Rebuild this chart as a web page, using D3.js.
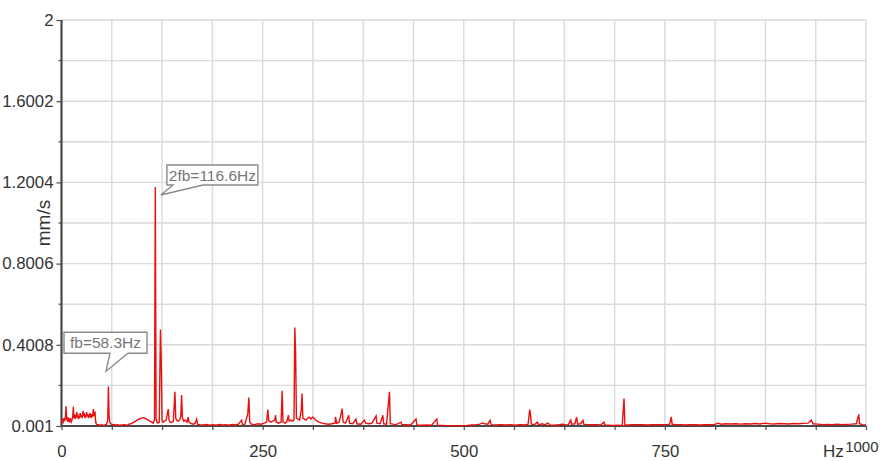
<!DOCTYPE html>
<html>
<head>
<meta charset="utf-8">
<script src="https://cdn.jsdelivr.net/npm/d3@7"></script>
<style>
  html, body { margin: 0; padding: 0; background: #fff; }
  svg { display: block; }
</style>
</head>
<body>
<svg id="chart" width="880" height="461"></svg>
<script>
// Vibration velocity spectrum (mm/s) versus frequency (Hz)
const yTickValues = [0.001, 0.4008, 0.8006, 1.2004, 1.6002, 2];
const yTickLabels = ["0.001", "0.4008", "0.8006", "1.2004", "1.6002", "2"];
const xTickValues = [0, 250, 500, 750, 1000];
const xTickLabels = ["0", "250", "500", "750", "1000"];

// [frequency Hz, amplitude mm/s]
const spectrum = [
  [0,0.015],[1,0.03],[2,0.02],[3,0.04],[4,0.025],[5,0.05],[5.6,0.098],[6.4,0.03],[7.2,0.045],[8,0.02],
  [9,0.035],[10,0.025],[11,0.04],[12,0.02],[13,0.03],[14,0.05],[14.7,0.095],[15.4,0.04],[16,0.06],[16.8,0.035],
  [17.5,0.055],[18.2,0.04],[18.9,0.07],[19.6,0.045],[20.3,0.06],[21,0.035],[21.8,0.05],[22.5,0.04],[23.2,0.065],[24,0.045],
  [24.8,0.055],[25.5,0.04],[26.2,0.06],[27,0.075],[27.7,0.05],[28.4,0.065],[29.1,0.04],[29.8,0.055],[30.5,0.045],[31.2,0.07],
  [32,0.05],[32.7,0.06],[33.4,0.04],[34.1,0.055],[34.8,0.045],[35.4,0.065],[36.1,0.05],[36.8,0.04],[37.5,0.06],[38.2,0.045],
  [39,0.055],[39.5,0.085],[40.2,0.05],[40.9,0.06],[41.6,0.072],[42.3,0.03],[43,0.012],[44,0.008],
  [46,0.008],[48,0.005],[50,0.007],[52,0.004],[54,0.006],[56,0.01],[57.5,0.03],[58.3,0.195],[59.2,0.05],[60,0.02],
  [61,0.012],[62,0.01],[64,0.006],[66,0.008],[68,0.005],[70,0.007],[72,0.004],[74,0.006],[76,0.005],[78,0.008],
  [80,0.006],[82,0.005],[84,0.01],[86,0.012],[88,0.015],[90,0.02],[92,0.025],[94,0.03],[96,0.035],[98,0.038],
  [100,0.04],[102,0.042],[104,0.038],[106,0.035],[108,0.03],[110,0.025],[112,0.02],[114,0.015],[115.6,0.03],[116.6,1.178],
  [117.6,0.04],[118.5,0.02],[120,0.015],[121.5,0.02],[123,0.476],[124,0.325],[125,0.03],[126,0.02],[128,0.025],[130,0.03],
  [132.7,0.084],[133.7,0.03],[135,0.02],[137,0.018],[139,0.025],[141,0.169],[142,0.04],[143,0.03],[145,0.025],[147,0.03],
  [148.3,0.05],[149.3,0.153],[150.3,0.04],[152,0.025],[154,0.03],[156,0.02],[157.5,0.045],[158.5,0.02],[160,0.015],[162,0.012],
  [164,0.01],[166,0.015],[168,0.035],[169,0.01],[172,0.008],[176,0.006],[180,0.008],[184,0.005],[188,0.007],[192,0.005],
  [196,0.008],[200,0.006],[204,0.007],[208,0.005],[212,0.008],[216,0.006],[220,0.01],[223.8,0.03],[225,0.008],[228,0.01],
  [231.5,0.06],[232.9,0.141],[234,0.02],[236,0.01],[240,0.008],[244,0.012],[248,0.01],[252,0.015],[255,0.02],[256.5,0.082],
  [257.5,0.03],[260,0.02],[263,0.025],[265,0.03],[266,0.054],[267,0.02],[270,0.015],[273,0.02],[274.3,0.174],[275.3,0.02],
  [278,0.015],[280,0.02],[282,0.054],[283,0.025],[285,0.03],[287,0.025],[289,0.03],[290,0.486],[291,0.366],[292,0.04],
  [294,0.035],[296,0.03],[298,0.08],[299,0.161],[300,0.04],[302,0.035],[304,0.03],[306,0.04],[308,0.045],[310,0.035],
  [312,0.045],[314,0.04],[316,0.03],[318,0.025],[320,0.02],[324,0.015],[328,0.012],[332,0.01],[336,0.012],[340,0.015],
  [340.6,0.046],[342,0.015],[345,0.02],[347,0.05],[348.8,0.087],[350,0.02],[353,0.015],[357,0.054],[358,0.015],[362,0.012],
  [366,0.035],[367,0.012],[372,0.01],[376.6,0.03],[378,0.015],[382,0.012],[386,0.015],[391,0.05],[392,0.015],[396,0.012],
  [399.4,0.054],[400.5,0.012],[404,0.01],[407.7,0.169],[408.7,0.012],[412,0.01],[416,0.008],[422,0.02],[423,0.008],[428,0.007],
  [434,0.006],[440.7,0.035],[441.7,0.006],[448,0.005],[454,0.006],[460,0.005],[466.5,0.035],[467.5,0.005],[474,0.004],[480,0.003],
  [486,0.003],[492,0.002],[498,0.003],[504,0.004],[510,0.006],[516,0.008],[520,0.01],[523,0.016],[526,0.012],[530,0.01],
  [532.7,0.03],[534,0.008],[540,0.006],[546,0.008],[552,0.006],[558,0.007],[564,0.005],[570,0.007],[576,0.006],[580,0.01],
  [582,0.082],[583,0.056],[584,0.01],[588,0.008],[591.5,0.02],[593,0.007],[598,0.012],[600,0.006],[605,0.015],[607,0.006],
  [612,0.005],[618,0.007],[623.4,0.01],[626,0.006],[630,0.008],[633,0.03],[634,0.01],[638,0.012],[640.4,0.044],[641.5,0.01],
  [645,0.012],[648.2,0.028],[649,0.01],[654,0.008],[660,0.007],[666,0.008],[670,0.006],[674.3,0.02],[675.5,0.006],[680,0.005],
  [686,0.004],[692,0.005],[697,0.004],[699.2,0.136],[700.3,0.005],[704,0.006],[710,0.008],[716,0.007],[722,0.008],[728,0.006],
  [734,0.007],[740,0.008],[746,0.007],[752,0.008],[756,0.01],[758,0.046],[759,0.01],[764,0.008],[770,0.007],[776,0.006],
  [782,0.008],[788,0.007],[794,0.006],[800,0.008],[806,0.007],[812,0.009],[816,0.015],[820,0.01],[826,0.012],[832,0.011],
  [838,0.012],[844,0.01],[850,0.012],[856,0.011],[862,0.013],[868,0.011],[874,0.015],[880,0.012],[886,0.011],[892,0.013],
  [898,0.012],[904,0.011],[910,0.013],[916,0.012],[922,0.014],[928,0.015],[932,0.03],[934,0.012],[940,0.01],[946,0.008],
  [952,0.009],[958,0.007],[964,0.01],[970,0.008],[976,0.009],[982,0.01],[988,0.012],[991,0.058],[992,0.012],[996,0.008],
  [1000,0.006]
];

// Marked peaks
const calloutTexts = ["fb=58.3Hz", "2fb=116.6Hz"];
const calloutHz = [58.3, 116.6];
const calloutAmp = [0.195, 1.178];

// Bubble geometry relative to the peak: box offset, box size, tail base (from box left), tail tip
const calloutLayout = [
  { dx: -44.4, dy: -54.4, w: 83, h: 21, base0: 46, base1: 64, tipDx: -2.4, tipDy: -15.4 },
  { dx: 11.6,  dy: -21.9, w: 91, h: 20, base0: 6,  base1: 36, tipDx: 5.6,  tipDy: 8.1 }
];

const svg = d3.select("#chart");
const plotLeft = 61.5, plotRight = 866, plotTop = 20, plotBottom = 426;

const x = d3.scaleLinear().domain([0, 1000]).range([plotLeft, plotRight]);
const y = d3.scaleLinear().domain([0.001, 2]).range([plotBottom, plotTop]);

const narrowFont = '"Liberation Sans Narrow","Arial Narrow","Liberation Sans",Arial,sans-serif';
const regularFont = '"Liberation Sans",Arial,sans-serif';

// Grid
const yGrid = d3.range(11).map(i => 0.001 + i * 0.1999);
const xGrid = d3.range(0, 1000.01, 62.5);
const grid = svg.append("g").attr("stroke", "#dadada").attr("stroke-width", 1.4);
grid.selectAll("line.h").data(yGrid).join("line").attr("class", "h")
  .attr("x1", plotLeft).attr("x2", plotRight).attr("y1", d => y(d)).attr("y2", d => y(d));
grid.selectAll("line.v").data(xGrid).join("line").attr("class", "v")
  .attr("y1", plotTop).attr("y2", plotBottom).attr("x1", d => x(d)).attr("x2", d => x(d));

// Spectrum trace
const line = d3.line().x(d => x(d[0])).y(d => y(d[1]));

// Axes
const axisColor = "#4a4a4a";
const yAxis = svg.append("g").attr("transform", `translate(${plotLeft},0)`)
  .call(d3.axisLeft(y).tickValues(yTickValues).tickSize(5).tickPadding(3)
    .tickFormat((d, i) => yTickLabels[i]));
yAxis.select(".domain").attr("stroke", axisColor).attr("stroke-width", 2.2).attr("d", `M0,${plotTop}V${plotBottom}`);
yAxis.selectAll(".tick line").attr("stroke", axisColor).attr("stroke-width", 1.2);
yAxis.selectAll(".tick text").attr("fill", "#333").style("font-family", narrowFont).style("font-size", "16.8px");

// minor ticks on the value axis
svg.append("g").selectAll("line").data(yGrid.filter((d, i) => i % 2 === 1)).join("line")
  .attr("x1", plotLeft - 3).attr("x2", plotLeft).attr("y1", d => y(d)).attr("y2", d => y(d))
  .attr("stroke", axisColor).attr("stroke-width", 1.2);

const xAxis = svg.append("g").attr("transform", `translate(0,${plotBottom})`)
  .call(d3.axisBottom(x).tickValues(xGrid).tickSize(4).tickPadding(15.5)
    .tickFormat(d => { const k = xTickValues.indexOf(d); return k >= 0 ? xTickLabels[k] : ""; }));
xAxis.select(".domain").attr("stroke", axisColor).attr("stroke-width", 2.2).attr("d", `M${plotLeft},0H${plotRight}`);
xAxis.selectAll(".tick line").attr("stroke", axisColor).attr("stroke-width", 1.2);
xAxis.selectAll(".tick text").attr("fill", "#333").style("font-family", narrowFont).style("font-size", "16.8px");
// last label sits at the chart edge, set slightly smaller and left-shifted
xAxis.selectAll(".tick text").filter(d => d === 1000)
  .style("font-size", "15px").attr("text-anchor", "end").attr("x", 12).attr("y", 15.5);

svg.append("path").datum(spectrum)
  .attr("d", line)
  .attr("fill", "none")
  .attr("stroke", "#ea1010")
  .attr("stroke-width", 1.4)
  .attr("stroke-linejoin", "miter");

// Axis titles
svg.append("text")
  .attr("transform", "translate(50,223) rotate(-90)")
  .attr("text-anchor", "middle")
  .style("font-family", regularFont).style("font-size", "19px").attr("fill", "#333")
  .text("mm/s");
svg.append("text")
  .attr("x", 823).attr("y", 457)
  .style("font-family", regularFont).style("font-size", "17px").attr("fill", "#333")
  .text("Hz");

// Peak callouts
calloutTexts.forEach((t, i) => {
  const L = calloutLayout[i];
  const px = x(calloutHz[i]), py = y(calloutAmp[i]);
  const x0 = px + L.dx, y0 = py + L.dy, x1 = x0 + L.w, y1 = y0 + L.h;
  const tx = px + L.tipDx, ty = py + L.tipDy;
  const g = svg.append("g");
  g.append("path")
    .attr("d", `M${x0},${y0}H${x1}V${y1}H${x0 + L.base1}L${tx},${ty}L${x0 + L.base0},${y1}H${x0}Z`)
    .attr("fill", "#fff").attr("stroke", "#8a8a8a").attr("stroke-width", 1.4);
  g.append("text")
    .attr("x", (x0 + x1) / 2).attr("y", y0 + L.h / 2 + 5.5)
    .attr("text-anchor", "middle")
    .style("font-family", regularFont).style("font-size", "15.5px").attr("fill", "#767676")
    .text(t);
});
</script>
</body>
</html>
